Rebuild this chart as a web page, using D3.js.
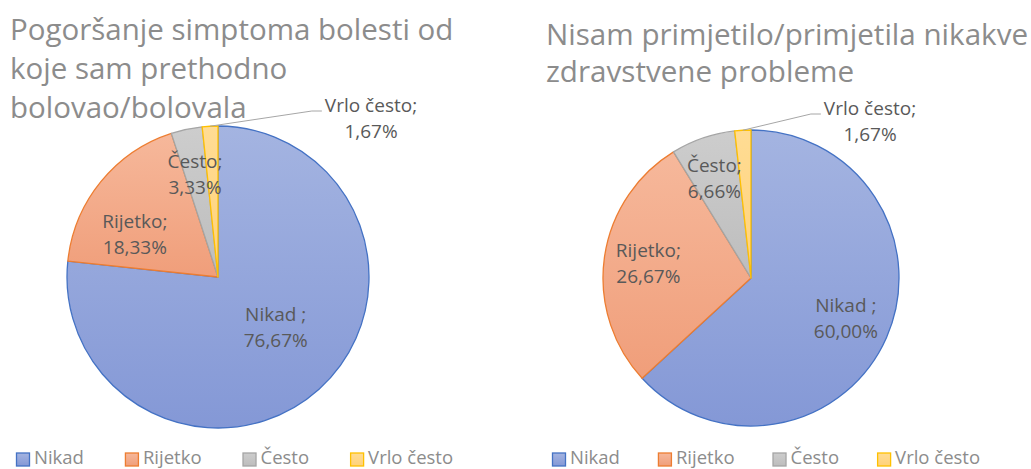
<!DOCTYPE html>
<html>
<head>
<meta charset="utf-8">
<script src="https://cdn.jsdelivr.net/npm/d3@7"></script>
<style>
  body { margin: 0; background: #fff; }
  svg { display: block; font-family: "Open Sans", "Noto Sans", sans-serif; }
</style>
</head>
<body>
<svg id="chart" width="1031" height="469"></svg>
<script>
const categories = ['Nikad ', 'Rijetko', 'Često', 'Vrlo često'];
const symptomsValues = [76.67, 18.33, 3.33, 1.67];
const noProblemsValues = [60.00, 26.67, 6.66, 1.67];
const symptomsTitle = ['Pogoršanje simptoma bolesti od', 'koje sam prethodno', 'bolovao/bolovala'];
const noProblemsTitle = ['Nisam primjetilo/primjetila nikakve', 'zdravstvene probleme'];

const fills = [['#a4b4e1', '#8498d6'], ['#f6b89b', '#f09e7a'], ['#cdcdcd', '#bdbdbd'], ['#ffdc94', '#ffd27a']];
const strokes = ['#4472c4', '#ed7d31', '#a5a5a5', '#ffc000'];

const hr = d3.formatLocale({ decimal: ',', thousands: '.', grouping: [3], currency: ['', ' €'] });
const pct = v => hr.format('.2f')(v) + '%';

const svg = d3.select('#chart');
const defs = svg.append('defs');
fills.forEach((f, i) => {
    const g = defs.append('linearGradient')
        .attr('id', `grad-${i}`)
        .attr('x1', 0).attr('y1', 0).attr('x2', 0).attr('y2', 1);
    g.append('stop').attr('offset', '0%').attr('stop-color', f[0]);
    g.append('stop').attr('offset', '100%').attr('stop-color', f[1]);
});

const charts = [
    {
        values: symptomsValues, title: symptomsTitle,
        titleX: 10, titleY: 40, titleSize: 29.5, titleGap: 39,
        cx: 218, cy: 277, r: 151,
        nudge: [[-13, -40], [-1, 13], [-1, -11], null],
        outside: { x: 371, y: 107 },
        legendX: 16, legendGap: 41
    },
    {
        values: noProblemsValues, title: noProblemsTitle,
        titleX: 546, titleY: 45, titleSize: 29.6, titleGap: 37,
        cx: 751, cy: 278, r: 148,
        nudge: [[0, -13], [0, -12], [-3, -13], null],
        outside: { x: 870, y: 110 },
        legendX: 552, legendGap: 38
    }
];

const pie = d3.pie().sort(null).value(d => d.value);

charts.forEach(c => {
    const data = categories.map((name, i) => ({ name, value: c.values[i], i }));
    const arcs = pie(data);
    const arc = d3.arc().innerRadius(0).outerRadius(c.r);
    const labelArc = d3.arc().innerRadius(c.r * 0.7).outerRadius(c.r * 0.7);

    svg.append('g')
        .selectAll('text')
        .data(c.title)
        .join('text')
        .attr('x', c.titleX)
        .attr('y', (d, i) => c.titleY + i * c.titleGap)
        .attr('font-size', c.titleSize)
        .attr('fill', '#8c8c8c')
        .text(d => d);

    const g = svg.append('g').attr('transform', `translate(${c.cx},${c.cy})`);

    g.selectAll('path')
        .data(arcs)
        .join('path')
        .attr('d', arc)
        .attr('fill', d => `url(#grad-${d.data.i})`)
        .attr('stroke', d => strokes[d.data.i])
        .attr('stroke-width', 1.3)
        .attr('stroke-linejoin', 'round');

    arcs.forEach((a, i) => {
        const t = g.append('text')
            .attr('text-anchor', 'middle')
            .attr('font-size', 19)
            .attr('fill', '#595959');
        let x, y;
        if (c.nudge[i]) {
            const p = labelArc.centroid(a);
            x = p[0] + c.nudge[i][0];
            y = p[1] + c.nudge[i][1];
        } else {
            x = c.outside.x - c.cx;
            y = c.outside.y - c.cy;
        }
        const first = t.append('tspan').attr('x', x).attr('y', y + 5).text(a.data.name + ';');
        t.append('tspan').attr('x', x).attr('y', y + 31).text(pct(a.data.value));

        if (!c.nudge[i]) {
            // leader line from the slice edge to the outside label
            const mid = (a.startAngle + a.endAngle) / 2;
            const sx = c.r * Math.sin(mid), sy = -c.r * Math.cos(mid);
            const lx = x - first.node().getComputedTextLength() / 2 - 3, ly = y + 4;
            g.append('polyline')
                .attr('points', [[sx, sy], [lx - 10, ly], [lx, ly]].map(p => p.join(',')).join(' '))
                .attr('fill', 'none')
                .attr('stroke', '#a6a6a6')
                .attr('stroke-width', 1);
        }
    });

    const legend = svg.append('g').attr('transform', `translate(${c.legendX},459)`);
    let lx = 0;
    categories.forEach((name, i) => {
        const item = legend.append('g').attr('transform', `translate(${lx},0)`);
        item.append('rect')
            .attr('x', 0.5).attr('y', -6)
            .attr('width', 13).attr('height', 13)
            .attr('fill', `url(#grad-${i})`)
            .attr('stroke', strokes[i])
            .attr('stroke-width', 1.3);
        const txt = item.append('text')
            .attr('x', 18).attr('y', 5)
            .attr('font-size', 18.5)
            .attr('fill', '#8c8c8c')
            .text(name.trim());
        lx += 18 + txt.node().getComputedTextLength() + c.legendGap;
    });
});
</script>
</body>
</html>
